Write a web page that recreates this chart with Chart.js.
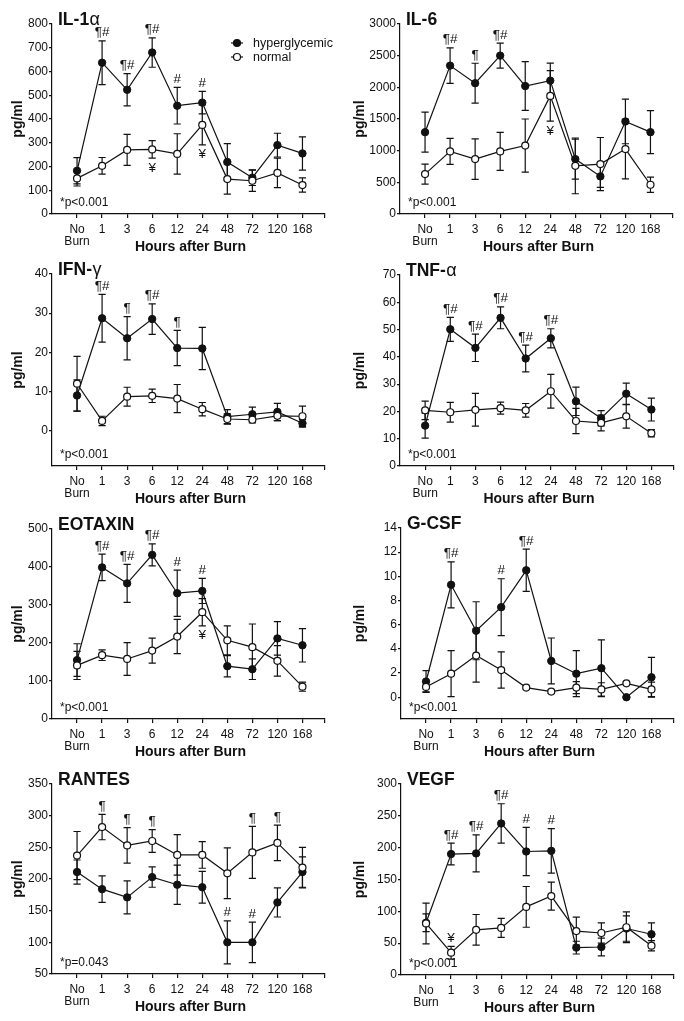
<!DOCTYPE html>
<html>
<head>
<meta charset="utf-8">
<title>Cytokines after burn</title>
<script src="https://cdn.jsdelivr.net/npm/chart.js@4.4.1/dist/chart.umd.min.js"></script>
<style>
  html, body { margin: 0; padding: 0; background: #fff; }
  #figure { position: relative; width: 684px; height: 1021px; overflow: hidden; }
  #figure canvas { position: absolute; }
</style>
</head>
<body>
<div id="figure"></div>
<script>
// x categories (hours after burn)
const hours = ["No Burn", "1", "3", "6", "12", "24", "48", "72", "120", "168"];

// IL-1 alpha
const il1aHyper = [182, 637, 523, 680, 456, 469, 219, 153, 290, 255];
const il1aHyperErr = [55, 92, 68, 62, 77, 47, 77, 33, 50, 70];
const il1aNormal = [150, 203, 270, 272, 253, 375, 147, 140, 173, 122];
const il1aNormalErr = [32, 35, 65, 37, 85, 84, 63, 45, 62, 30];
const il1aTicks = [0, 100, 200, 300, 400, 500, 600, 700, 800];
const il1aMarks = [[1, "¶#", "h", "up"], [2, "¶#", "h", "up"], [3, "¶#", "h", "up"], [4, "#", "h", "up"], [5, "#", "h", "up"], [3, "¥", "n", "down"], [5, "¥", "n", "down"]];

// IL-6
const il6Hyper = [1292, 2343, 2065, 2501, 2020, 2106, 867, 594, 1461, 1292];
const il6HyperErr = [315, 280, 315, 197, 385, 275, 315, 175, 352, 340];
const il6Normal = [630, 988, 867, 988, 1080, 1865, 760, 788, 1025, 462];
const il6NormalErr = [158, 205, 320, 300, 420, 400, 440, 420, 470, 120];
const il6Ticks = [0, 500, 1000, 1500, 2000, 2500, 3000];
const il6Marks = [[1, "¶#", "h", "up"], [2, "¶", "h", "up"], [3, "¶#", "h", "up"], [5, "¥", "n", "down"]];

// IFN-gamma
const ifngHyper = [9.0, 28.7, 23.6, 28.5, 21.1, 21.0, 3.6, 4.2, 4.8, 1.9];
const ifngHyperErr = [4.0, 6.1, 5.5, 3.9, 4.5, 5.4, 1.8, 1.8, 2.2, 1.0];
const ifngNormal = [12.0, 2.5, 8.7, 8.9, 8.2, 5.5, 3.0, 2.8, 3.8, 3.7];
const ifngNormalErr = [7.0, 1.2, 2.4, 1.7, 3.6, 1.7, 1.3, 0.8, 1.2, 2.6];
const ifngTicks = [0, 10, 20, 30, 40];
const ifngMarks = [[1, "¶#", "h", "up"], [2, "¶", "h", "up"], [3, "¶#", "h", "up"], [4, "¶", "h", "up"]];

// TNF-alpha
const tnfaHyper = [14.8, 50.1, 43.3, 54.3, 39.4, 46.8, 23.7, 17.5, 26.5, 20.7];
const tnfaHyperErr = [4.6, 4.4, 5.0, 4.0, 4.9, 3.5, 5.2, 2.8, 3.9, 4.2];
const tnfaNormal = [20.4, 19.7, 20.6, 21.2, 20.4, 27.4, 16.5, 15.8, 18.2, 12.0];
const tnfaNormalErr = [3.4, 3.6, 6.0, 2.2, 2.5, 6.2, 4.6, 2.9, 4.3, 1.3];
const tnfaTicks = [0, 10, 20, 30, 40, 50, 60, 70];
const tnfaMarks = [[1, "¶#", "h", "up"], [2, "¶#", "h", "up"], [3, "¶#", "h", "up"], [4, "¶#", "h", "up"], [5, "¶#", "h", "up"]];

// EOTAXIN
const eotHyper = [155, 399, 357, 432, 331, 337, 139, 131, 212, 194];
const eotHyperErr = [43, 35, 50, 29, 61, 33, 28, 27, 44, 44];
const eotNormal = [141, 168, 158, 180, 217, 281, 207, 189, 153, 85];
const eotNormalErr = [37, 14, 43, 33, 45, 36, 38, 61, 40, 12];
const eotTicks = [0, 100, 200, 300, 400, 500];
const eotMarks = [[1, "¶#", "h", "up"], [2, "¶#", "h", "up"], [3, "¶#", "h", "up"], [4, "#", "h", "up"], [5, "#", "h", "up"], [5, "¥", "n", "down"]];

// G-CSF
const gcsfHyper = [1.3, 9.3, 5.5, 7.45, 10.5, 3.0, 1.95, 2.4, 0.0, 1.65];
const gcsfHyperErr = [0.9, 1.9, 2.4, 2.35, 1.75, 1.9, 1.9, 2.35, 0.05, 1.65];
const gcsfNormal = [0.85, 1.95, 3.45, 2.25, 0.8, 0.47, 0.8, 0.65, 1.15, 0.65];
const gcsfNormalErr = [0.4, 1.9, 2.2, 1.5, 0.1, 0.15, 0.5, 0.55, 0.1, 0.6];
const gcsfTicks = [0, 2, 4, 6, 8, 10, 12, 14];
const gcsfMarks = [[1, "¶#", "h", "up"], [3, "#", "h", "up"], [4, "¶#", "h", "up"]];

// RANTES
const rantesHyper = [211, 184, 171, 203, 191, 187, 100, 100, 163, 211];
const rantesHyperErr = [19, 21, 26, 16, 31, 25, 34, 32, 23, 24];
const rantesNormal = [237, 282, 253, 260, 238, 238, 209, 242, 257, 218];
const rantesNormalErr = [38, 20, 28, 18, 32, 21, 40, 41, 28, 32];
const rantesTicks = [50, 100, 150, 200, 250, 300, 350];
const rantesMarks = [[1, "¶", "n", "up"], [2, "¶", "n", "up"], [3, "¶", "n", "up"], [7, "¶", "n", "up"], [8, "¶", "n", "up"], [6, "#", "h", "up"], [7, "#", "h", "up"]];

// VEGF
const vegfHyper = [82, 190, 191, 238, 194, 195, 43, 44, 73, 64];
const vegfHyperErr = [14, 17, 29, 31, 38, 35, 10, 14, 20, 18];
const vegfNormal = [81, 35, 71, 74, 107, 124, 69, 66, 75, 46];
const vegfNormalErr = [32, 10, 24, 15, 32, 22, 22, 16, 24, 8];
const vegfTicks = [0, 50, 100, 150, 200, 250, 300];
const vegfMarks = [[1, "¶#", "h", "up"], [2, "¶#", "h", "up"], [3, "¶#", "h", "up"], [4, "#", "h", "up"], [5, "#", "h", "up"], [1, "¥", "n", "up"]];

const INK = "#111";
const FONT = "'Liberation Sans', Arial, Helvetica, sans-serif";
const CAP = 3.6; // half width of error bar caps

// one entry per panel, box = where the panel sits on the page
const panels = [
    { id: "il1a", title: "IL-1α", pText: "*p<0.001", legend: true, yMin: 0, yMax: 800, yTicks: il1aTicks,
      hyper: il1aHyper, hyperErr: il1aHyperErr, normal: il1aNormal, normalErr: il1aNormalErr, marks: il1aMarks,
      box: { left: 0, top: 0, yW: 52, padR: 17, areaH: 190 } },
    { id: "il6", title: "IL-6", pText: "*p<0.001", yMin: 0, yMax: 3000, yTicks: il6Ticks,
      hyper: il6Hyper, hyperErr: il6HyperErr, normal: il6Normal, normalErr: il6NormalErr, marks: il6Marks,
      box: { left: 342, top: 0, yW: 58, padR: 11, areaH: 190 } },
    { id: "ifng", title: "IFN-γ", pText: "*p<0.001", yMin: -9, yMax: 40, yTicks: ifngTicks,
      hyper: ifngHyper, hyperErr: ifngHyperErr, normal: ifngNormal, normalErr: ifngNormalErr, marks: ifngMarks,
      box: { left: 0, top: 250, yW: 52, padR: 17, areaH: 192 } },
    { id: "tnfa", title: "TNF-α", pText: "*p<0.001", yMin: 0, yMax: 70, yTicks: tnfaTicks,
      hyper: tnfaHyper, hyperErr: tnfaHyperErr, normal: tnfaNormal, normalErr: tnfaNormalErr, marks: tnfaMarks,
      box: { left: 342, top: 251, yW: 58, padR: 10, areaH: 191 } },
    { id: "eot", title: "EOTAXIN", pText: "*p<0.001", yMin: 0, yMax: 500, yTicks: eotTicks,
      hyper: eotHyper, hyperErr: eotHyperErr, normal: eotNormal, normalErr: eotNormalErr, marks: eotMarks,
      box: { left: 0, top: 505, yW: 52, padR: 17, areaH: 190 } },
    { id: "gcsf", title: "G-CSF", pText: "*p<0.001", yMin: -1.8, yMax: 14, yTicks: gcsfTicks,
      hyper: gcsfHyper, hyperErr: gcsfHyperErr, normal: gcsfNormal, normalErr: gcsfNormalErr, marks: gcsfMarks,
      box: { left: 342, top: 504, yW: 59, padR: 10, areaH: 191 } },
    { id: "rantes", title: "RANTES", pText: "*p=0.043", yMin: 50, yMax: 350, yTicks: rantesTicks,
      hyper: rantesHyper, hyperErr: rantesHyperErr, normal: rantesNormal, normalErr: rantesNormalErr, marks: rantesMarks,
      box: { left: 0, top: 760, yW: 52, padR: 17, areaH: 190 } },
    { id: "vegf", title: "VEGF", pText: "*p<0.001", yMin: 0, yMax: 300, yTicks: vegfTicks,
      hyper: vegfHyper, hyperErr: vegfHyperErr, normal: vegfNormal, normalErr: vegfNormalErr, marks: vegfMarks,
      box: { left: 342, top: 760, yW: 59, padR: 10, areaH: 191 } },
];

function drawTitle(ctx, text, x, y) {
    // greek letter at the end is set in regular weight, like the original
    const m = text.match(/^(.*?)([α-ω])$/);
    const main = m ? m[1] : text;
    ctx.font = "bold 17.5px " + FONT;
    ctx.fillText(main, x, y);
    if (m) {
        const w = ctx.measureText(main).width;
        ctx.font = "18px " + FONT;
        ctx.fillText(m[2], x + w + 0.5, y);
    }
}

function decorPlugin(p) {
    return {
        id: "decor_" + p.id,
        // error bars go under the markers
        beforeDatasetsDraw(chart) {
            const ctx = chart.ctx;
            const xs = chart.scales.x;
            const ys = chart.scales.y;
            ctx.save();
            ctx.strokeStyle = INK;
            ctx.lineWidth = 1.2;
            [[p.hyper, p.hyperErr], [p.normal, p.normalErr]].forEach(([vals, errs]) => {
                vals.forEach((v, i) => {
                    const e = errs[i];
                    const x = xs.getPixelForValue(i);
                    const y1 = ys.getPixelForValue(v + e);
                    const y2 = ys.getPixelForValue(v - e);
                    ctx.beginPath();
                    ctx.moveTo(x, y1);
                    ctx.lineTo(x, y2);
                    ctx.moveTo(x - CAP, y1);
                    ctx.lineTo(x + CAP, y1);
                    ctx.moveTo(x - CAP, y2);
                    ctx.lineTo(x + CAP, y2);
                    ctx.stroke();
                });
            });
            ctx.restore();
        },
        afterDraw(chart) {
            const ctx = chart.ctx;
            const area = chart.chartArea;
            const xs = chart.scales.x;
            const ys = chart.scales.y;
            ctx.save();
            ctx.fillStyle = INK;
            ctx.strokeStyle = INK;

            // panel title
            ctx.textAlign = "left";
            ctx.textBaseline = "alphabetic";
            drawTitle(ctx, p.title, area.left + 6, area.top + 0.5);

            // p value
            ctx.font = "12px " + FONT;
            ctx.textBaseline = "middle";
            ctx.fillText(p.pText, area.left + 8, area.bottom - 11);

            // axis titles
            ctx.font = "bold 14px " + FONT;
            ctx.textAlign = "center";
            ctx.fillText("Hours after Burn", (area.left + area.right) / 2 + 2, area.bottom + 33);
            ctx.save();
            ctx.translate(18, (area.top + area.bottom) / 2);
            ctx.rotate(-Math.PI / 2);
            ctx.fillText("pg/ml", 0, 0);
            ctx.restore();

            // significance marks
            ctx.font = "13.5px " + FONT;
            p.marks.forEach(([i, txt, series, side]) => {
                const vals = series === "h" ? p.hyper : p.normal;
                const errs = series === "h" ? p.hyperErr : p.normalErr;
                const x = xs.getPixelForValue(i);
                if (side === "up") {
                    ctx.textBaseline = "bottom";
                    ctx.fillText(txt, x, ys.getPixelForValue(vals[i] + errs[i]) - 1.5);
                } else {
                    ctx.textBaseline = "top";
                    ctx.fillText(txt, x, ys.getPixelForValue(vals[i] - errs[i]) + 3);
                }
            });

            // legend, first panel only
            if (p.legend) {
                const lx = area.left + 185;
                const rows = [["hyperglycemic", INK, area.top + 19], ["normal", "#fff", area.top + 33]];
                ctx.font = "12.5px " + FONT;
                ctx.textAlign = "left";
                ctx.textBaseline = "middle";
                rows.forEach(([label, fill, y]) => {
                    ctx.lineWidth = 1.2;
                    ctx.beginPath();
                    ctx.moveTo(lx - 6, y);
                    ctx.lineTo(lx + 6, y);
                    ctx.stroke();
                    ctx.beginPath();
                    ctx.arc(lx, y, 3.5, 0, Math.PI * 2);
                    ctx.fillStyle = fill;
                    ctx.fill();
                    ctx.stroke();
                    ctx.fillStyle = INK;
                    ctx.fillText(label, lx + 16, y + 0.5);
                });
            }
            ctx.restore();
        },
    };
}

const figure = document.getElementById("figure");

panels.forEach((p) => {
    const b = p.box;
    const canvas = document.createElement("canvas");
    canvas.width = 342;
    canvas.height = 255;
    canvas.style.left = b.left + "px";
    canvas.style.top = b.top + "px";
    canvas.style.width = "342px";
    canvas.style.height = "255px";
    figure.appendChild(canvas);
    const xH = 255 - 24 - b.areaH;

    new Chart(canvas, {
        type: "scatter",
        data: {
            datasets: [
                {
                    label: "normal",
                    data: p.normal.map((v, i) => ({ x: i, y: v })),
                    showLine: true,
                    borderColor: INK,
                    borderWidth: 1.2,
                    pointRadius: 3.5,
                    pointBackgroundColor: "#fff",
                    pointBorderColor: INK,
                    pointBorderWidth: 1.2,
                    clip: false,
                },
                {
                    label: "hyperglycemic",
                    data: p.hyper.map((v, i) => ({ x: i, y: v })),
                    showLine: true,
                    borderColor: INK,
                    borderWidth: 1.2,
                    pointRadius: 3.7,
                    pointBackgroundColor: INK,
                    pointBorderColor: INK,
                    pointBorderWidth: 1,
                    clip: false,
                },
            ],
        },
        options: {
            responsive: false,
            animation: false,
            devicePixelRatio: window.devicePixelRatio || 1,
            layout: { padding: { top: 24, right: b.padR, bottom: 0, left: 0 } },
            plugins: {
                legend: { display: false },
                tooltip: { enabled: false },
            },
            scales: {
                x: {
                    type: "linear",
                    min: -1,
                    max: 9.9,
                    afterBuildTicks: (scale) => {
                        scale.ticks = hours.map((h, i) => ({ value: i })).concat([{ value: 9.9 }]);
                    },
                    afterFit: (scale) => {
                        scale.height = xH;
                    },
                    ticks: {
                        autoSkip: false,
                        maxRotation: 0,
                        padding: 5,
                        color: INK,
                        font: { family: FONT, size: 12, lineHeight: 1.05 },
                        callback: (value) => {
                            const h = Number.isInteger(value) ? hours[value] : undefined;
                            return h ? h.split(" ") : "";
                        },
                    },
                    grid: { drawOnChartArea: false, tickLength: 4, color: INK, lineWidth: 1.2 },
                    border: { color: INK, width: 1.2 },
                },
                y: {
                    min: p.yMin,
                    max: p.yMax,
                    afterBuildTicks: (scale) => {
                        scale.ticks = p.yTicks.map((v) => ({ value: v }));
                    },
                    afterFit: (scale) => {
                        scale.width = b.yW;
                    },
                    ticks: {
                        padding: 1,
                        color: INK,
                        font: { family: FONT, size: 12 },
                        callback: (value) => String(value),
                    },
                    grid: { drawOnChartArea: false, tickLength: 3, color: INK, lineWidth: 1.2 },
                    border: { color: INK, width: 1.2 },
                },
            },
        },
        plugins: [decorPlugin(p)],
    });
});
</script>
</body>
</html>
